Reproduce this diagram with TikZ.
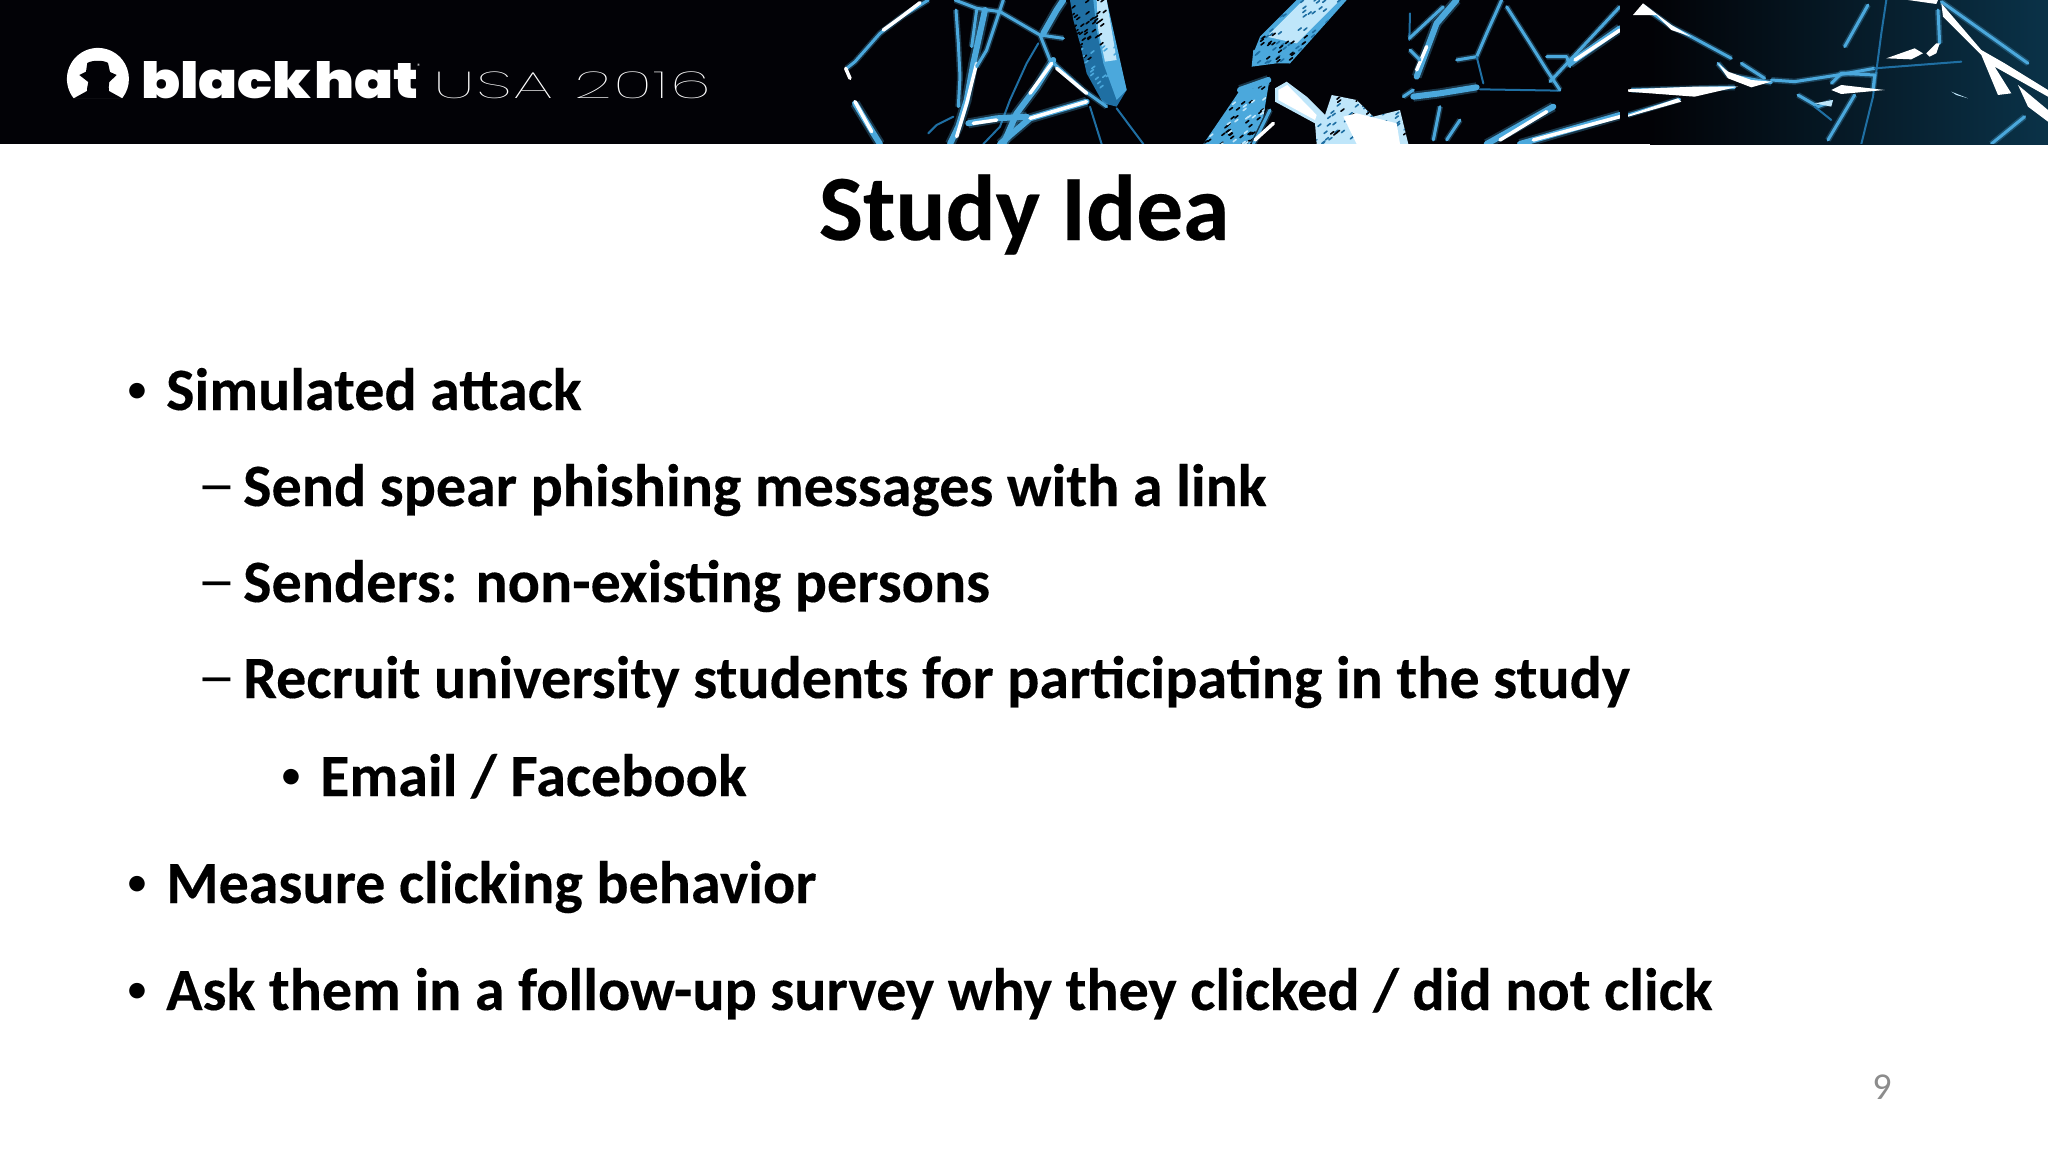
\documentclass[tikz,border=0pt]{standalone}
\usepackage{fontspec}
\setmainfont{Carlito}[BoldFeatures={FakeBold=0.25}]
\newfontfamily\hatfont[FakeStretch=1.15]{Poppins Black}
\newfontfamily\usafont[FakeStretch=1.77, LetterSpace=4]{Poppins Thin}
\newfontfamily\dashfont[FakeStretch=1.3]{Carlito}
\definecolor{glassdark}{HTML}{1F6FA3}
\definecolor{glass}{HTML}{4BA8DC}
\definecolor{glasslight}{HTML}{BFE6FA}
\definecolor{pagenum}{HTML}{8C8C8C}
\definecolor{glow}{HTML}{0A3248}
\definecolor{headblack}{HTML}{020206}
\newcommand{\speckle}[6]{
	\foreach \i in {1,...,#5}{
		\pgfmathsetmacro\sx{#1+rnd*#2}
		\pgfmathsetmacro\sy{#3+rnd*#4}
		\draw[#6, line width=1.6pt, line cap=round] (\sx,\sy) -- ++(9,-7);
	}
}
\tikzset{
	bodytext/.style={anchor=base west, inner sep=0pt, font=\fontsize{60}{64}\selectfont\bfseries},
	bullet/.style={anchor=base west, inner sep=0pt, font=\fontsize{44}{48}\selectfont},
	dashmark/.style={anchor=base west, inner sep=0pt, font=\fontsize{60}{64}\dashfont},
	crackdim/.style={draw=glassdark, line width=2pt, line join=round, line cap=round},
	crack/.style={draw=glass, line width=3pt, line join=round, line cap=round, preaction={draw=glass, opacity=.3, line width=6pt}},
	crackwide/.style={draw=glass, line width=6pt, line join=round, line cap=round, preaction={draw=glass, opacity=.3, line width=10pt}},
	crackbright/.style={draw=white, line width=3.5pt, line join=round, line cap=round},
	shard/.style={x=0.3333pt, y=-0.3333pt}
}
\begin{document}
\begin{tikzpicture}[x=1pt, y=-1pt]
	\pgfmathsetseed{9}
	\useasboundingbox (0,0) rectangle (2048,1152);
	\fill[headblack] (0,0) rectangle (2048,144);
	\shade[left color=headblack, right color=glow] (1650,0) rectangle (2048,144);
	% first group of cracks
	\begin{scope}[shard, shift={(830pt,0pt)}]
		\clip (0,0) rectangle (1260,432);
		\fill[glassdark] (720,0) -- (825,0) -- (890,270) -- (860,320) -- (820,310) -- (770,220) -- (750,130) -- (730,60) -- cycle;
		\fill[glass] (790,0) -- (830,0) -- (890,270) -- (860,300) -- (820,190) -- (800,90) -- cycle;
		\fill[glasslight] (800,0) -- (830,0) -- (860,180) -- (825,185) -- (805,90) -- cycle;
		\begin{scope}
			\clip (720,0) -- (825,0) -- (890,270) -- (860,320) -- (820,310) -- (770,220) -- (750,130) -- (730,60) -- cycle;
			\speckle{720}{100}{0}{200}{40}{headblack}
			\speckle{720}{150}{100}{200}{25}{glass}
		\end{scope}
		\draw[crackdim] (295,400) -- (320,375) -- (370,350);
		\draw[crackdim] (860,325) -- (940,432);
		\draw[crackdim] (780,320) -- (815,432);
		\draw[crack] (50,205) -- (75,185) -- (150,100) -- (215,50) -- (295,0);
		\draw[crackbright] (160,90) -- (215,50) -- (270,8);
		\draw[crackbright] (47,205) -- (60,235);
		\draw[crackwide] (75,310) -- (130,400) -- (150,432);
		\draw[crackbright] (75,305) -- (125,395);
		\draw[crack] (378,30) -- (385,130) -- (390,230) -- (385,320);
		\draw[crack] (440,30) -- (425,140);
		\draw[crackwide] (465,30) -- (430,190) -- (410,300) -- (385,380) -- (360,432);
		\draw[crackbright] (440,190) -- (410,310) -- (380,410);
		\draw[crack] (520,0) -- (500,60) -- (470,150) -- (440,200);
		\draw[crack] (375,0) -- (440,25) -- (510,35) -- (570,70) -- (630,105) -- (660,180) -- (760,270) -- (830,320);
		\draw[crack] (630,105) -- (700,115);
		\draw[crackwide] (640,100) -- (680,30) -- (700,0);
		\draw[crackdim] (625,130) -- (590,190) -- (540,300) -- (510,380) -- (460,432);
		\draw[crackwide] (670,180) -- (620,260) -- (560,340) -- (520,432);
		\draw[crackbright] (665,190) -- (600,280);
		\draw[crackbright] (680,205) -- (770,280);
		\draw[crackwide] (415,370) -- (500,355) -- (590,350);
		\draw[crackwide] (510,432) -- (600,355) -- (770,305);
		\draw[crackbright] (430,370) -- (500,360);
		\draw[crackbright] (600,355) -- (770,305);
	\end{scope}
	% middle group
	\begin{scope}[shard, shift={(1200pt,0pt)}]
		\clip (0,0) rectangle (1260,432);
		\fill[glass] (290,0) -- (440,0) -- (270,190) -- (160,160) -- (180,110) -- cycle;
		\fill[glasslight] (310,0) -- (420,0) -- (290,130) -- (200,110) -- cycle;
		\fill[glass] (160,150) -- (155,200) -- (230,190) -- (270,190) -- (230,150) -- cycle;
		\begin{scope}
			\clip (290,0) -- (440,0) -- (270,190) -- (155,200) -- (180,110) -- cycle;
			\speckle{160}{280}{0}{200}{70}{glassdark}
			\speckle{160}{200}{100}{100}{25}{headblack}
		\end{scope}
		\fill[glass] (10,432) -- (100,300) -- (120,270) -- (210,230) -- (190,350) -- (150,432) -- cycle;
		\begin{scope}
			\clip (10,432) -- (100,300) -- (120,270) -- (210,230) -- (190,350) -- (150,432) -- cycle;
			\speckle{10}{200}{230}{210}{70}{headblack}
			\speckle{10}{200}{230}{210}{40}{glasslight}
		\end{scope}
		\fill[glasslight] (225,265) -- (260,245) -- (320,290) -- (375,345) -- (395,285) -- (470,300) -- (520,350) -- (600,330) -- (625,432) -- (350,432) -- (345,370) -- (225,305) -- cycle;
		\begin{scope}
			\clip (375,345) -- (395,285) -- (470,300) -- (520,350) -- (600,330) -- (625,432) -- (350,432) -- (345,370) -- cycle;
			\speckle{340}{280}{285}{150}{70}{glassdark}
			\speckle{340}{280}{285}{150}{25}{headblack}
		\end{scope}
		\fill[white] (235,270) -- (262,255) -- (350,345) -- (345,360) -- (235,300) -- cycle;
		\fill[white] (430,350) -- (470,340) -- (590,370) -- (600,432) -- (470,432) -- cycle;
		\draw[crackwide] (120,270) -- (205,240);
		\draw[crack] (160,432) -- (210,330);
		\draw[crackbright] (165,420) -- (220,370);
		\draw[crackdim] (630,40) -- (628,120);
		\draw[crack] (628,115) -- (730,20);
		\draw[crackwide] (650,230) -- (710,70) -- (770,0);
		\draw[crackbright] (650,210) -- (680,140);
		\draw[crack] (630,150) -- (660,180);
		\draw[crack] (610,290) -- (640,270);
		\draw[crackwide] (640,290) -- (720,280) -- (830,262);
		\draw[crackdim] (840,268) -- (1080,272);
		\draw[crack] (860,100) -- (905,0);
		\draw[crack] (770,180) -- (830,170) -- (860,100);
		\draw[crackdim] (830,170) -- (850,250);
		\draw[crack] (700,420) -- (720,320);
		\draw[crack] (740,420) -- (780,360);
		\draw[crack] (920,20) -- (990,130) -- (1040,210) -- (1080,270);
		\draw[crack] (1040,170) -- (1100,170) -- (1110,200);
		\draw[crack] (1050,245) -- (1260,20);
		\draw[crackwide] (1110,190) -- (1260,85);
		\draw[crackbright] (1125,180) -- (1260,90);
		\draw[crackwide] (860,432) -- (1060,320);
		\draw[crackbright] (900,420) -- (1040,335);
		\draw[crackwide] (960,432) -- (1260,345);
		\draw[crackbright] (1000,420) -- (1260,350);
	\end{scope}
	% right group
	\begin{scope}[shard, shift={(1628pt,0pt)}]
		\clip (0,0) rectangle (1260,432);
		\draw[crack] (190,110) -- (310,175);
		\draw[crack] (340,190) -- (410,235);
		\draw[crack] (430,240) -- (500,245) -- (630,225) -- (740,205);
		\draw[crackdim] (740,205) -- (1000,185);
		\draw[crack] (510,285) -- (570,320) -- (610,305);
		\draw[crackdim] (560,320) -- (610,360);
		\draw[crack] (600,420) -- (680,285);
		\draw[crackdim] (700,432) -- (735,290) -- (760,100) -- (775,0);
		\draw[crack] (650,140) -- (720,15);
		\draw[crack] (930,30) -- (935,130);
		\draw[crack] (940,5) -- (1200,190);
		\draw[crack] (1090,432) -- (1190,350);
		\draw[crack] (610,250) -- (640,220) -- (740,225) -- (735,270);
		\draw[crack] (10,270) -- (320,262);
		\draw[crack] (0,345) -- (155,298);
		\draw[crack] (45,20) -- (130,80) -- (190,110);
		\draw[crack] (270,190) -- (300,225) -- (430,248);
		\fill[white] (15,45) -- (45,10) -- (90,45) -- (130,75) -- (190,110) -- (130,90) -- (85,45) -- cycle;
		\fill[white] (270,190) -- (300,215) -- (370,240) -- (430,245) -- (370,262) -- (300,235) -- cycle;
		\fill[white] (0,268) -- (200,260) -- (330,260) -- (200,290) -- (0,275) -- cycle;
		\fill[white] (0,345) -- (150,295) -- (160,305) -- (0,350) -- cycle;
		\fill[white] (775,175) -- (860,145) -- (885,160) -- (850,178) -- cycle;
		\fill[white] (895,160) -- (925,130) -- (935,130) -- (925,160) -- (905,170) -- cycle;
		\fill[white] (840,0) -- (930,0) -- (925,12) -- cycle;
		\fill[white] (940,10) -- (1060,150) -- (1130,190) -- (1260,270) -- (1260,290) -- (1100,200) -- (1150,280) -- (1110,285) -- (1060,165) -- (945,50) -- cycle;
		\fill[white] (1170,255) -- (1260,330) -- (1260,365) -- (1200,320) -- cycle;
		\fill[white] (640,255) -- (770,270) -- (640,282) -- (610,270) -- cycle;
		\fill[glasslight] (970,275) -- (1020,295) -- (985,285) -- cycle;
		\fill[glasslight] (560,310) -- (615,300) -- (610,320) -- cycle;
	\end{scope}
	% logo
	\fill[white] (73.5,98) arc[start angle=218, end angle=-38, radius=31pt] -- cycle;
	\fill[headblack] (73.5,98.5) -- (87,91) -- (87.3,87) -- (88.3,82) -- (79.3,75) -- (86,71.7) -- (87.3,63) .. controls (92,60) and (104,60) .. (108,63) -- (110,72) -- (116.7,75) -- (109.3,82) -- (108.7,87) -- (109,91) -- (122.5,98.5) -- cycle;
	\node[anchor=base west, inner sep=0pt, text=white, font=\fontsize{50}{54}\hatfont] (hat) at (141,98) {\spaceskip=3pt\relax black hat};
	\node[anchor=base west, inner sep=0pt, text=white, font=\fontsize{8}{9}\selectfont] (reg) at (417,69) {®};
	\node[anchor=base west, inner sep=0pt, text=white, font=\fontsize{37.5}{40}\usafont] (usa) at (433,98) {USA 2016};
	% title and list
	\node[anchor=base, inner sep=0pt, font=\fontsize{93.4}{96}\selectfont\bfseries] (title) at (1024,240) {Study Idea};
	\node[bullet] (b1) at (126,403.5) {•};
	\node[bodytext] (t1) at (166,410) {Simulated attack};
	\node[dashmark] (b2) at (197.5,504) {–};
	\node[bodytext] (t2) at (243,506) {Send spear phishing messages with a link};
	\node[dashmark] (b3) at (197.5,600) {–};
	\node[bodytext] (t3) at (243,602) {Senders: non-existing persons};
	\node[dashmark] (b4) at (197.5,696) {–};
	\node[bodytext] (t4) at (243,698) {Recruit university students for participating in the study};
	\node[bullet] (b5) at (280,789.5) {•};
	\node[bodytext] (t5) at (320,796) {Email / Facebook};
	\node[bullet] (b6) at (126,896.5) {•};
	\node[bodytext] (t6) at (166,903) {Measure clicking behavior};
	\node[bullet] (b7) at (126,1003.5) {•};
	\node[bodytext] (t7) at (166,1010) {Ask them in a follow-up survey why they clicked / did not click};
	\node[anchor=base, inner sep=0pt, text=pagenum, font=\fontsize{38}{40}\selectfont] (page) at (1882,1099) {9};
\end{tikzpicture}
\end{document}
